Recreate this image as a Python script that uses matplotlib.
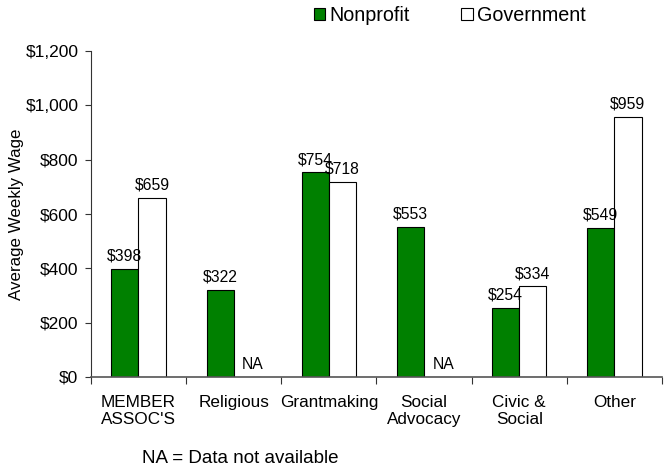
import numpy as np
import matplotlib.pyplot as plt
from matplotlib.patches import Patch

plt.rcParams['font.family'] = ['Liberation Sans', 'DejaVu Sans']

categories = ["MEMBER\nASSOC'S", "Religious", "Grantmaking", "Social\nAdvocacy", "Civic &\nSocial", "Other"]
nonprofit = [398, 322, 754, 553, 254, 549]
government = [659, None, 718, None, 334, 959]

green = "#008000"
w = 0.285
x = np.arange(len(categories))

fig = plt.figure(figsize=(6.68, 4.73), dpi=100)
ax = fig.add_axes([0.136, 0.203, 0.855, 0.689])

ax.bar(x - w / 2, nonprofit, w, color=green, edgecolor="black", linewidth=0.8)
gov_vals = [v if v is not None else 0 for v in government]
ax.bar(x + w / 2, gov_vals, w, color="white", edgecolor="black", linewidth=0.8)

# value labels above bars
for i, v in enumerate(nonprofit):
    ax.text(x[i] - w / 2, v + 30, f"${v:,}", ha="center", va="baseline", fontsize=11.3)
for i, v in enumerate(government):
    if v is None:
        ax.text(x[i] + w / 2 + 0.06, 30, "NA", ha="center", va="baseline", fontsize=11.3)
    else:
        ax.text(x[i] + w / 2, v + 30, f"${v:,}", ha="center", va="baseline", fontsize=11.3)

ax.set_ylim(0, 1200)
ax.set_yticks(range(0, 1201, 200))
ax.set_yticklabels([f"${v:,}" for v in range(0, 1201, 200)], fontsize=12.5)
ax.set_xlim(-0.5, len(categories) - 0.5)
ax.set_xticks(np.arange(-0.5, len(categories), 1.0))
ax.set_xticklabels([])
ax.set_xticks(x, minor=True)
ax.set_xticklabels(categories, minor=True, fontsize=12.3, linespacing=1.15, va="top")
ax.tick_params(axis="x", which="minor", length=0, pad=13)
ax.tick_params(axis="x", which="major", length=5, direction="out", color="#333333")
ax.tick_params(axis="y", length=4, direction="out", color="#333333", pad=5)

for s in ["top", "right"]:
    ax.spines[s].set_visible(False)
ax.spines["left"].set_color("#333333")
ax.spines["bottom"].set_color("#555555")
ax.spines["bottom"].set_linewidth(1.2)

ax.set_ylabel("Average Weekly Wage", fontsize=12.2)
ax.yaxis.set_label_coords(-0.117, 0.5)

handles = [Patch(facecolor=green, edgecolor="black", linewidth=0.8),
           Patch(facecolor="white", edgecolor="black", linewidth=0.8)]
fig.legend(handles, ["Nonprofit", "Government"], loc="center", bbox_to_anchor=(0.673, 0.967),
           ncol=2, frameon=False, fontsize=14.2, handlelength=0.6, handleheight=0.6,
           handletextpad=0.2, columnspacing=2.6)

fig.text(0.213, 0.030, "NA = Data not available", fontsize=13.5, ha="left", va="center")

fig.savefig("out.png", dpi=100)
